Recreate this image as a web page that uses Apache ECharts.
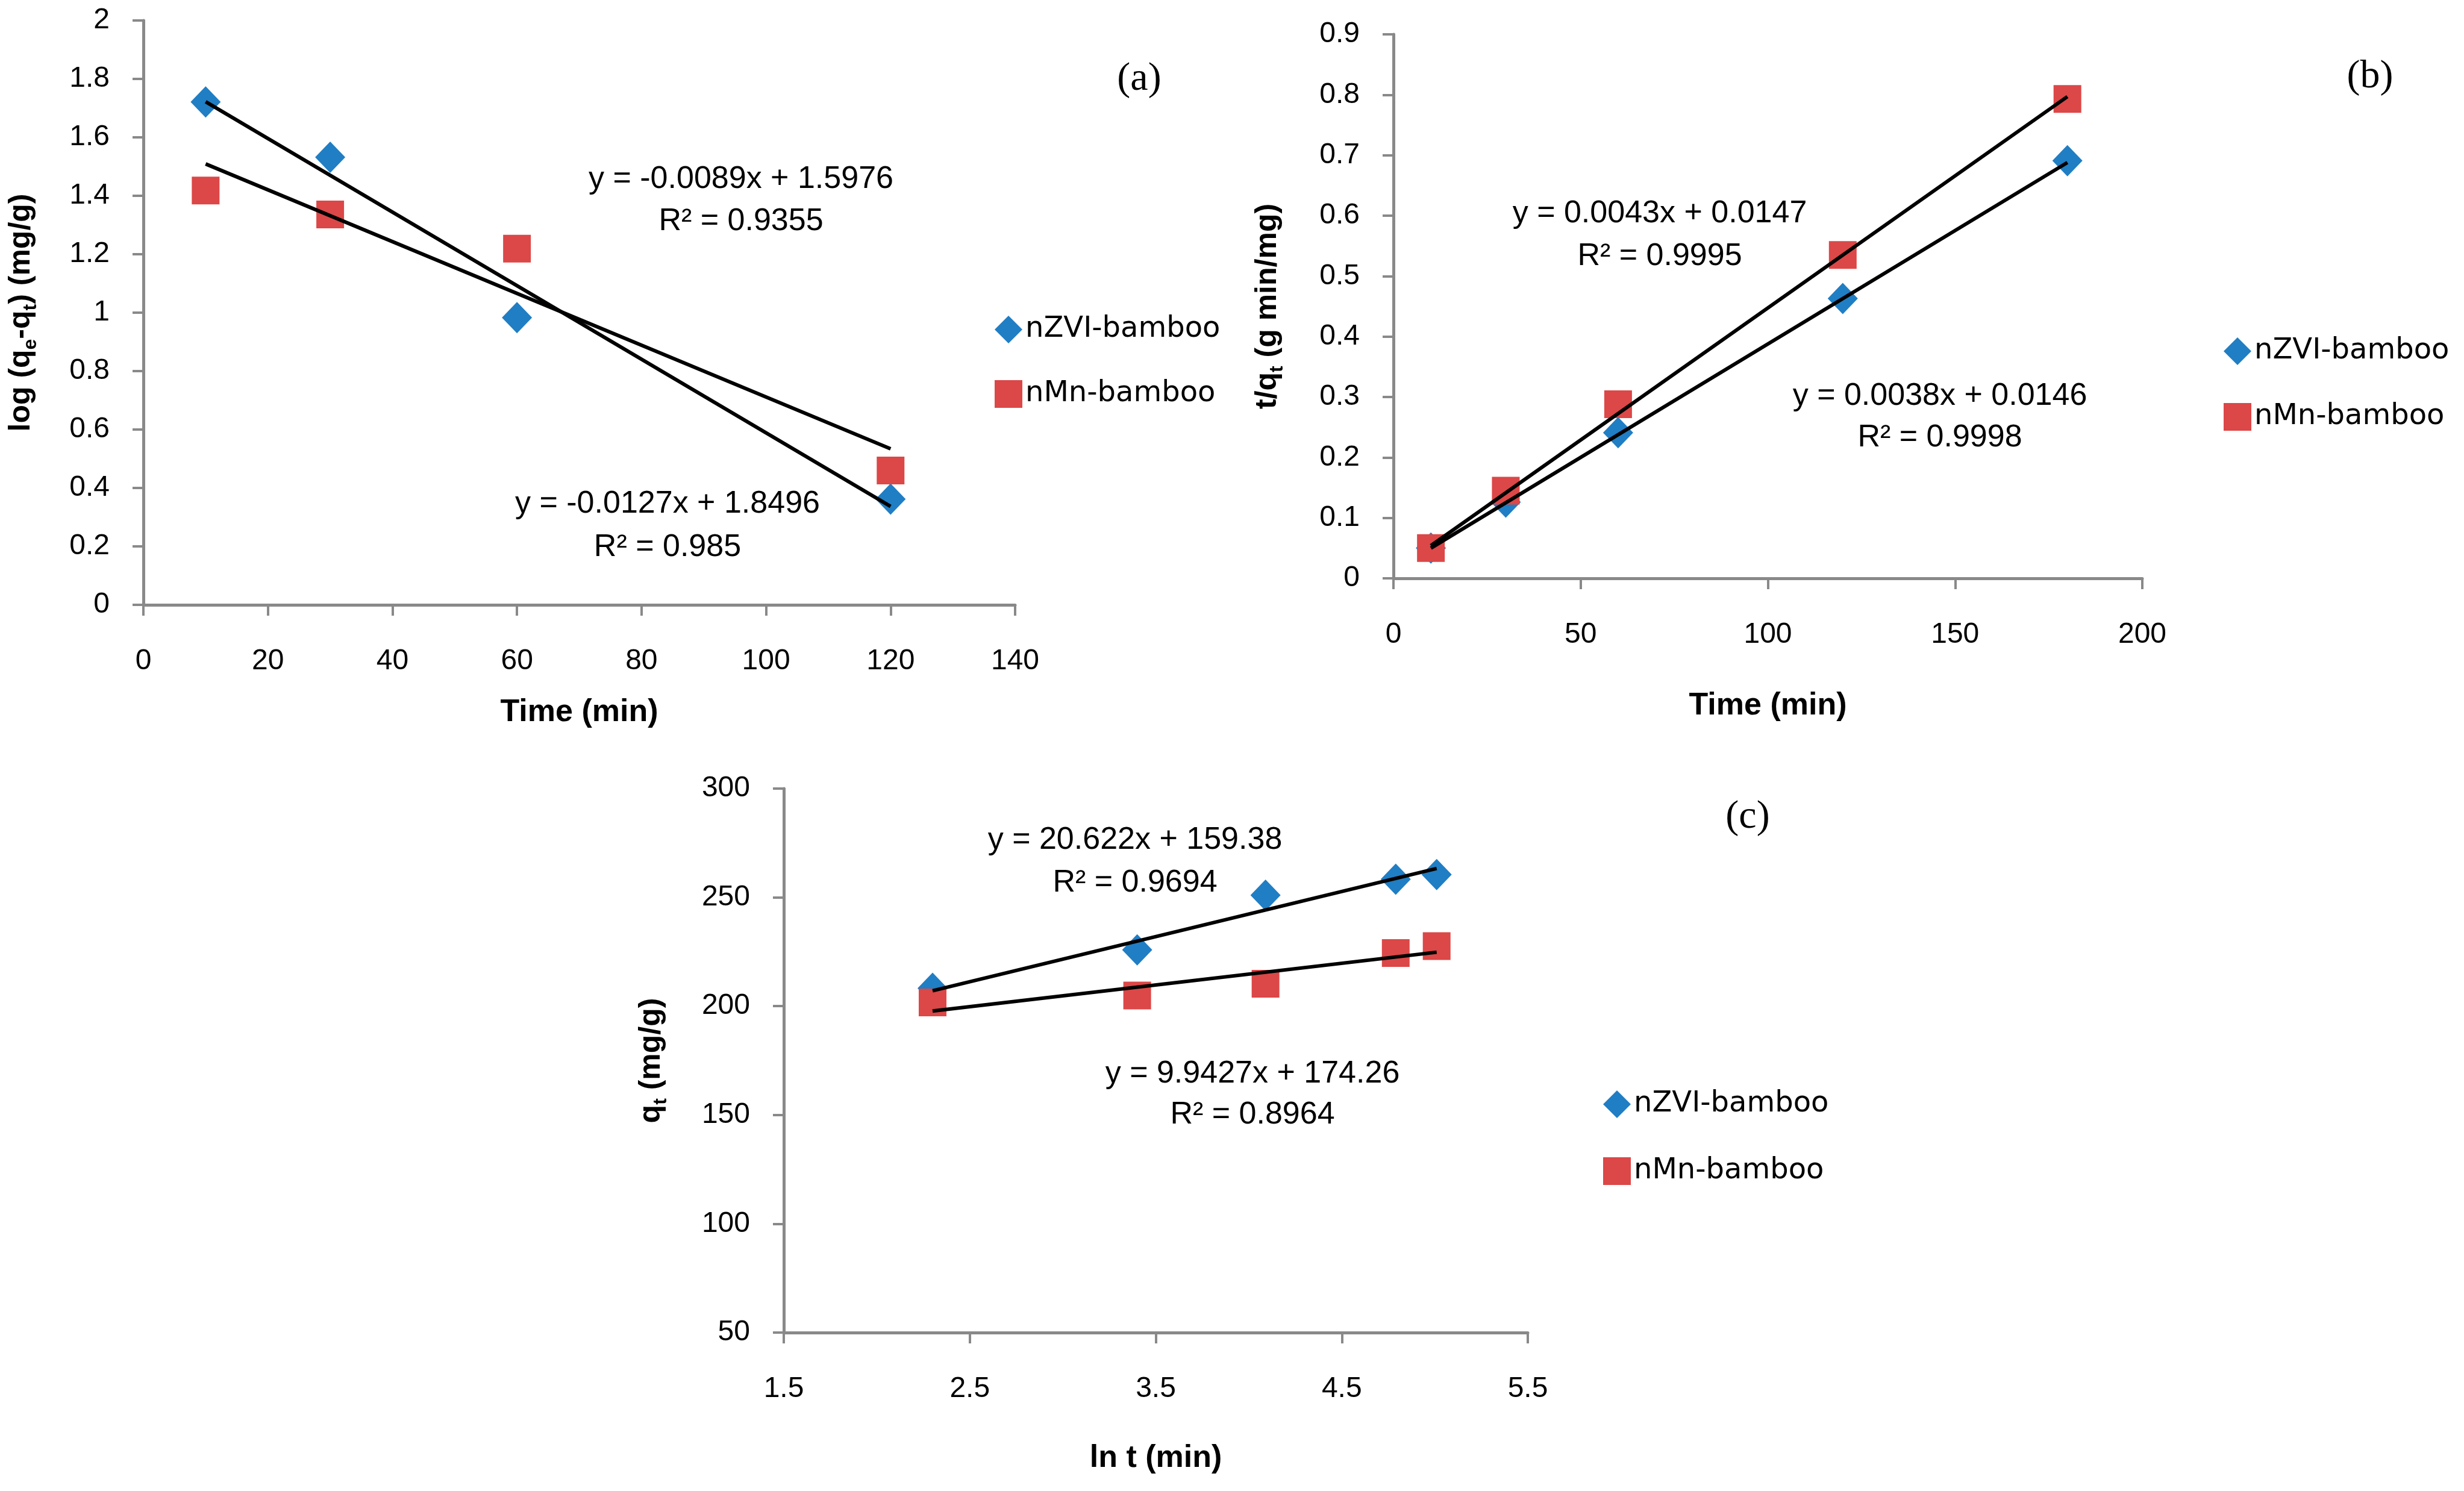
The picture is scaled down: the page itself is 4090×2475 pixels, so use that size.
<!DOCTYPE html>
<html><head><meta charset="utf-8">
<script src="https://cdn.jsdelivr.net/npm/echarts@6/dist/echarts.min.js"></script>
<style>html,body{margin:0;padding:0;background:#fff}#c{width:4090px;height:2475px}</style>
</head><body><div id="c"></div>
<script>
// ---------- data ----------
const seriesNames = ['nZVI-bamboo', 'nMn-bamboo'];

// (a) pseudo-first-order
const timeA = [10, 30, 60, 120];
const nzviA = [1.721, 1.532, 0.983, 0.362];
const nmnA = [1.418, 1.336, 1.219, 0.460];
const trendA_nzvi = [[10, 1.722], [120, 0.337]];
const trendA_nmn = [[10, 1.509], [120, 0.534]];
const eqA = ['y = -0.0089x + 1.5976\nR² = 0.9355', 'y = -0.0127x + 1.8496\nR² = 0.985'];

// (b) pseudo-second-order
const timeB = [10, 30, 60, 120, 180];
const nzviB = [0.050, 0.126, 0.241, 0.463, 0.691];
const nmnB = [0.050, 0.145, 0.288, 0.535, 0.793];
const trendB_nzvi = [[10, 0.050], [180, 0.688]];
const trendB_nmn = [[10, 0.054], [180, 0.797]];
const eqB = ['y = 0.0043x + 0.0147\nR² = 0.9995', 'y = 0.0038x + 0.0146\nR² = 0.9998'];

// (c) intraparticle / Elovich
const lntC = [2.30, 3.40, 4.09, 4.79, 5.01];
const nzviC = [208.2, 225.9, 251.0, 258.3, 260.5];
const nmnC = [201.7, 204.9, 210.3, 224.4, 227.6];
const trendC_nzvi = [[2.30, 207.1], [5.01, 263.3]];
const trendC_nmn = [[2.30, 197.8], [5.01, 224.8]];
const eqC = ['y = 20.622x + 159.38\nR² = 0.9694', 'y = 9.9427x + 174.26\nR² = 0.8964'];
const xTicksC = [1.5, 2.5, 3.5, 4.5, 5.5];

const panelLabels = ['(a)', '(b)', '(c)'];

// ---------- styles ----------
const BLUE = '#207EC4';
const RED = '#DC4747';
const AXIS = '#898989';
const TICKFONT = 'Liberation Sans, Arial, sans-serif';
const DIAMOND_PATH = 'path://M50,0L100,50L50,100L0,50Z';
const titleRich = {
  b: { fontSize: 50, fontWeight: 'bold', fontFamily: TICKFONT, color: '#000', lineHeight: 64, verticalAlign: 'middle' },
  s: { fontSize: 32, fontWeight: 'bold', fontFamily: TICKFONT, color: '#000', lineHeight: 30, verticalAlign: 'bottom' }
};

function xAxisCfg(idx, min, max, interval, name, gap, extra) {
  const ax = {
    type: 'value', gridIndex: idx, min: min, max: max,
    name: name, nameLocation: 'middle', nameGap: gap,
    nameTextStyle: { fontSize: 52, fontWeight: 'bold', fontFamily: TICKFONT, color: '#000' },
    axisLine: { onZero: false, lineStyle: { color: AXIS, width: 5 } },
    axisTick: { show: true, length: 18, lineStyle: { color: AXIS, width: 4 } },
    axisLabel: { margin: 70, fontSize: 48, fontFamily: TICKFONT, color: '#000' },
    splitLine: { show: false }
  };
  if (interval) ax.interval = interval;
  return Object.assign(ax, extra || {});
}
function yAxisCfg(idx, min, max, interval, name, gap) {
  return {
    type: 'value', gridIndex: idx, min: min, max: max, interval: interval,
    name: name, nameLocation: 'middle', nameGap: gap, nameRotate: 90,
    nameTextStyle: { rich: titleRich },
    axisLine: { show: true, onZero: false, lineStyle: { color: AXIS, width: 5 } },
    axisTick: { show: true, length: 18, lineStyle: { color: AXIS, width: 4 } },
    axisLabel: { margin: 56, fontSize: 48, fontFamily: TICKFONT, color: '#000' },
    splitLine: { show: false }
  };
}
function pairs(xs, ys) { return xs.map((x, i) => [x, ys[i]]); }
function scatter(name, idx, data) {
  const isZ = name === seriesNames[0];
  return {
    name: name, type: 'scatter', xAxisIndex: idx, yAxisIndex: idx, data: data,
    symbol: isZ ? 'diamond' : 'rect', symbolSize: isZ ? [50, 52] : 46,
    itemStyle: { color: isZ ? BLUE : RED, opacity: 1 }, z: 2
  };
}
function trend(idx, data) {
  return {
    name: 'trend', type: 'line', xAxisIndex: idx, yAxisIndex: idx, data: data,
    symbol: 'none', silent: true, lineStyle: { color: '#000', width: 6 }, z: 3
  };
}
function legendCfg(left, top, gap) {
  return {
    left: left, top: top, orient: 'vertical', padding: 0, itemGap: gap,
    itemWidth: 46, itemHeight: 46, selectedMode: false,
    data: [{ name: seriesNames[0], icon: DIAMOND_PATH }, { name: seriesNames[1], icon: 'rect' }],
    textStyle: { fontSize: 48, fontFamily: 'DejaVu Sans, Verdana, sans-serif', color: '#000', padding: [0, 0, 0, 0] }
  };
}
function eqText(x, y, text, lh) {
  return {
    type: 'text', x: x, y: y, silent: true,
    style: { text: text, fontSize: 52, fontFamily: TICKFONT, fill: '#000', align: 'center', verticalAlign: 'middle', lineHeight: lh }
  };
}
function panelText(x, y, text) {
  return {
    type: 'text', x: x, y: y, silent: true,
    style: { text: text, fontSize: 66, fontFamily: 'Liberation Serif, Times New Roman, serif', fill: '#000', align: 'center', verticalAlign: 'middle' }
  };
}

const option = {
  backgroundColor: '#fff',
  animation: false,
  grid: [
    { left: 238, top: 34, width: 1447, height: 970 },
    { left: 2313, top: 57, width: 1243, height: 903 },
    { left: 1301, top: 1309, width: 1235, height: 903 }
  ],
  xAxis: [
    xAxisCfg(0, 0, 140, 20, 'Time (min)', 153),
    xAxisCfg(1, 0, 200, 50, 'Time (min)', 186),
    xAxisCfg(2, 1.5, 5.5, null, 'ln t (min)', 183, {
      axisLabel: { margin: 70, fontSize: 48, fontFamily: TICKFONT, color: '#000', customValues: xTicksC, formatter: v => String(v) },
      axisTick: { show: true, length: 18, lineStyle: { color: AXIS, width: 4 }, customValues: xTicksC }
    })
  ],
  yAxis: [
    yAxisCfg(0, 0, 2, 0.2, '{b|log (q}{s|e}{b|-q}{s|t}{b|) (mg/g)}', 171),
    yAxisCfg(1, 0, 0.9, 0.1, '{b|t/q}{s|t}{b| (g min/mg)}', 177),
    yAxisCfg(2, 50, 300, 50, '{b|q}{s|t}{b| (mg/g)}', 188)
  ],
  legend: [
    legendCfg(1651, 523, 59),
    legendCfg(3691, 559, 61),
    legendCfg(2661, 1809, 63)
  ],
  series: [
    scatter(seriesNames[0], 0, pairs(timeA, nzviA)),
    scatter(seriesNames[1], 0, pairs(timeA, nmnA)),
    trend(0, trendA_nzvi),
    trend(0, trendA_nmn),
    scatter(seriesNames[0], 1, pairs(timeB, nzviB)),
    scatter(seriesNames[1], 1, pairs(timeB, nmnB)),
    trend(1, trendB_nzvi),
    trend(1, trendB_nmn),
    scatter(seriesNames[0], 2, pairs(lntC, nzviC)),
    scatter(seriesNames[1], 2, pairs(lntC, nmnC)),
    trend(2, trendC_nzvi),
    trend(2, trendC_nmn)
  ],
  graphic: [
    eqText(1230, 333, eqA[0], 70),
    eqText(1108, 873, eqA[1], 72),
    eqText(2755, 390, eqB[0], 71),
    eqText(3220, 692, eqB[1], 69),
    eqText(1884, 1430, eqC[0], 71),
    eqText(2079, 1817, eqC[1], 68),
    panelText(1891, 132, panelLabels[0]),
    panelText(3934, 128, panelLabels[1]),
    panelText(2901, 1357, panelLabels[2])
  ]
};

const chart = echarts.init(document.getElementById('c'), null, { renderer: 'canvas' });
chart.setOption(option);
</script></body></html>
